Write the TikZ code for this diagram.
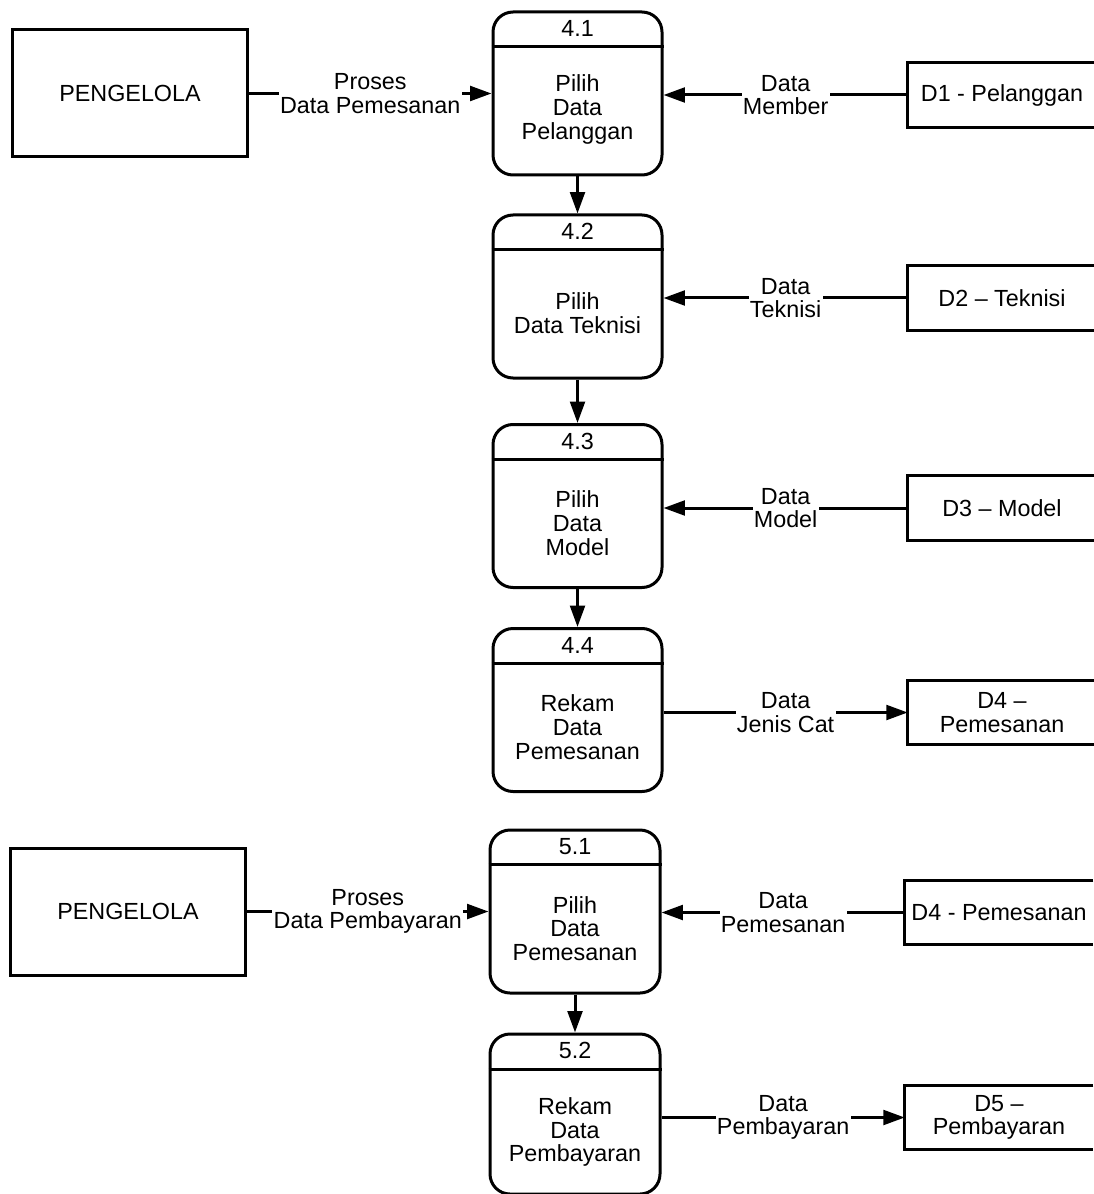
\documentclass[tikz,border=0pt]{standalone}
\usepackage{fontspec}
\setmainfont{Liberation Sans}
\usetikzlibrary{arrows.meta,calc}
\begin{document}
\begin{tikzpicture}[x=0.75pt,y=-0.75pt,
  every node/.style={font=\fontsize{17.5}{17.8}\selectfont, align=center},
  flow/.style={line width=2.25pt, -{Triangle[length=16pt,width=11pt]}},
  proc/.style={draw, line width=2.25pt, rounded corners=15pt, minimum width=126.75pt, minimum height=122.25pt, inner sep=0pt},
  ext/.style={draw, line width=2.25pt, minimum width=176.25pt, minimum height=95.25pt},
  store/.style={minimum width=141pt, minimum height=48pt, inner sep=0pt},
  storeline/.style={line width=2.25pt},
  divider/.style={line width=2.25pt},
  lbl/.style={fill=white, inner sep=1pt},
]
\useasboundingbox (0,0) rectangle (1094,1194);

% ---------- Process 4 ----------
\node[ext] (e1) at (130,93.5) {PENGELOLA};

\node[proc] (p41) at (577.5,93.5) {};
\node (p41n) at ($(p41.north)+(0,18)$) {4.1};
\draw[divider] ($(p41.north west)+(0,36)$) -- ($(p41.north east)+(0,36)$);
\node (p41b) at ($(p41.center)+(0,16)$) {Pilih\\Data\\Pelanggan};

\node[proc] (p42) at (577.5,296.5) {};
\node (p42n) at ($(p42.north)+(0,18)$) {4.2};
\draw[divider] ($(p42.north west)+(0,36)$) -- ($(p42.north east)+(0,36)$);
\node (p42b) at ($(p42.center)+(0,17)$) {Pilih\\Data Teknisi};

\node[proc] (p43) at (577.5,506) {};
\node (p43n) at ($(p43.north)+(0,18)$) {4.3};
\draw[divider] ($(p43.north west)+(0,36)$) -- ($(p43.north east)+(0,36)$);
\node (p43b) at ($(p43.center)+(0,17)$) {Pilih\\Data\\Model};

\node[proc] (p44) at (577.5,710) {};
\node (p44n) at ($(p44.north)+(0,18)$) {4.4};
\draw[divider] ($(p44.north west)+(0,36)$) -- ($(p44.north east)+(0,36)$);
\node (p44b) at ($(p44.center)+(0,17)$) {Rekam\\Data\\Pemesanan};

% data stores (open on the right)
\node[store] (d1) at (1002,95) {D1 - Pelanggan};
\node[store] (d2) at (1002,298) {D2 -- Teknisi};
\node[store] (d3) at (1002,508) {D3 -- Model};
\node[store] (d4) at (1002,712.5) {D4 --\\Pemesanan};
\foreach \s in {d1,d2,d3,d4}
  \draw[storeline] (\s.north east) -- (\s.north west) -- (\s.south west) -- (\s.south east);

% flows
\draw[flow] (e1.east) -- (e1.east -| p41.west)
  node[lbl, midway] {Proses\\Data Pemesanan};
\draw[flow] (d1.west) -- (d1.west -| p41.east)
  node[lbl, midway] {Data\\Member};
\draw[flow] (d2.west) -- (d2.west -| p42.east)
  node[lbl, midway] {Data\\Teknisi};
\draw[flow] (d3.west) -- (d3.west -| p43.east)
  node[lbl, midway] {Data\\Model};
\draw[flow] (d4.west -| p44.east) -- (d4.west)
  node[lbl, midway] {Data\\Jenis Cat};
\draw[flow] (p41.south) -- (p42.north);
\draw[flow] (p42.south) -- (p43.north);
\draw[flow] (p43.south) -- (p44.north);

% ---------- Process 5 ----------
\node[ext] (e2) at (128,911.5) {PENGELOLA};

\node[proc, minimum width=127.5pt] (p51) at (575,911.5) {};
\node (p51n) at ($(p51.north)+(0,18)$) {5.1};
\draw[divider] ($(p51.north west)+(0,36)$) -- ($(p51.north east)+(0,36)$);
\node (p51b) at ($(p51.center)+(0,17)$) {Pilih\\Data\\Pemesanan};

\node[proc, minimum width=127.5pt, minimum height=120pt] (p52) at (575,1114) {};
\node (p52n) at ($(p52.north)+(0,18)$) {5.2};
\draw[divider] ($(p52.north west)+(0,37)$) -- ($(p52.north east)+(0,37)$);
\node (p52b) at ($(p52.center)+(0,18)$) {Rekam\\Data\\Pembayaran};

\node[store] (d4b) at (999,912.5) {D4 - Pemesanan};
\node[store] (d5) at (999,1117.5) {D5 --\\Pembayaran};
\foreach \s in {d4b,d5}
  \draw[storeline] (\s.north east) -- (\s.north west) -- (\s.south west) -- (\s.south east);

\draw[flow] (e2.east) -- (e2.east -| p51.west)
  node[lbl, midway] {Proses\\Data Pembayaran};
\draw[flow] (d4b.west) -- (d4b.west -| p51.east)
  node[lbl, midway] {Data\\Pemesanan};
\draw[flow] (d5.west -| p52.east) -- (d5.west)
  node[lbl, midway] {Data\\Pembayaran};
\draw[flow] (p51.south) -- (p52.north);
\end{tikzpicture}
\end{document}
